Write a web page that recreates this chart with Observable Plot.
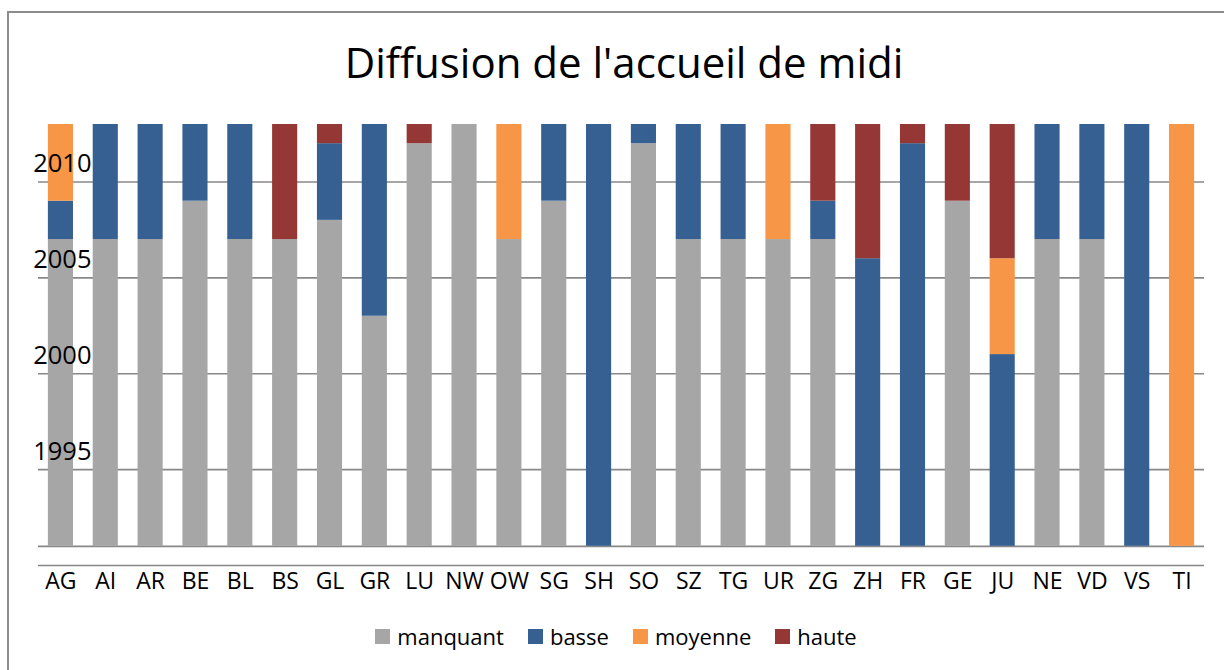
<!DOCTYPE html>
<html>
<head>
<meta charset="utf-8">
<script src="https://cdn.jsdelivr.net/npm/d3@7"></script>
<script src="https://cdn.jsdelivr.net/npm/@observablehq/plot@0.6"></script>
<style>
  html, body { margin: 0; padding: 0; background: #fff; overflow: hidden; }
  #chart { position: relative; width: 1224px; height: 670px; overflow: hidden; background: #fff; font-family: "Open Sans", sans-serif; color: #000; }
  #frame { position: absolute; left: 7px; top: 11px; width: 1300px; height: 800px; border-left: 2px solid #8c8c8c; border-top: 2px solid #8c8c8c; }
  #title { position: absolute; left: 0; top: 41px; width: 1248px; text-align: center; font-size: 42px; line-height: 42px; white-space: nowrap; }
  #plot { position: absolute; left: 0; top: 100px; }
  #legend { position: absolute; left: 0; top: 622px; width: 1232px; display: flex; justify-content: center; font-size: 22px; line-height: 28px; }
  .item { display: flex; align-items: center; margin: 0 12px; }
  .sw { width: 15px; height: 15px; margin-right: 7px; }
</style>
</head>
<body>
<div id="chart">
  <div id="frame"></div>
  <div id="title"></div>
  <div id="plot"></div>
  <div id="legend"></div>
</div>
<script>
const titleText = "Diffusion de l'accueil de midi";
const cantons = ["AG","AI","AR","BE","BL","BS","GL","GR","LU","NW","OW","SG","SH","SO","SZ","TG","UR","ZG","ZH","FR","GE","JU","NE","VD","VS","TI"];
const startYear = 1991;
// durations (years) of each level, stacked from startYear
const manquant = [16,16,16,18,16,16,17,12,21,22,16,18, 0,21,16,16,16,16, 0, 0,18, 0,16,16, 0, 0];
const basse    = [ 2, 6, 6, 4, 6, 0, 4,10, 0, 0, 0, 4,22, 1, 6, 6, 0, 2,15,21, 0,10, 6, 6,22, 0];
const moyenne  = [ 4, 0, 0, 0, 0, 0, 0, 0, 0, 0, 6, 0, 0, 0, 0, 0, 6, 0, 0, 0, 0, 5, 0, 0, 0,22];
const haute    = [ 0, 0, 0, 0, 0, 6, 1, 0, 1, 0, 0, 0, 0, 0, 0, 0, 0, 4, 7, 1, 4, 7, 0, 0, 0, 0];
const seriesNames = ["manquant","basse","moyenne","haute"];
const seriesColors = ["#a6a6a6","#366092","#f79646","#953735"];
const yTicks = [1995, 2000, 2005, 2010];
const gridYears = [1991, 1995, 2000, 2005, 2010];
const axisYear = 1990;
const topYear = 2013;

const seriesValues = [manquant, basse, moyenne, haute];
const rows = [];
cantons.forEach((c, i) => {
  let base = startYear;
  seriesNames.forEach((s, j) => {
    const v = seriesValues[j][i];
    if (v > 0) rows.push({canton: c, series: s, y1: base, y2: base + v});
    base += v;
  });
});

document.getElementById("title").textContent = titleText;

const plot = Plot.plot({
  width: 1224,
  height: 500,
  marginLeft: 38,
  marginRight: 20,
  marginTop: 24,
  marginBottom: 35,
  style: {fontFamily: "Open Sans, sans-serif", fontSize: "23px", color: "#000", background: "transparent", overflow: "visible"},
  x: {domain: cantons, paddingInner: 0.44, paddingOuter: 0.22, round: false, label: null},
  y: {domain: [axisYear, topYear], label: null},
  color: {domain: seriesNames, range: seriesColors},
  marks: [
    Plot.ruleY(gridYears.concat([axisYear]), {stroke: "#888", strokeWidth: 1.6}),
    Plot.barY(rows, {x: "canton", y1: "y1", y2: "y2", fill: "series"}),
    Plot.axisX({tickSize: 0, tickPadding: 7, fontSize: 23, label: null}),
    Plot.axisY({ticks: yTicks, tickSize: 0, tickPadding: 0, tickFormat: "d", dx: 53, dy: -18, fontSize: 25.5, label: null})
  ]
});
document.getElementById("plot").appendChild(plot);

const legend = document.getElementById("legend");
seriesNames.forEach((s, j) => {
  const it = document.createElement("div");
  it.className = "item";
  const sw = document.createElement("div");
  sw.className = "sw";
  sw.style.background = seriesColors[j];
  const t = document.createElement("span");
  t.textContent = s;
  it.appendChild(sw); it.appendChild(t);
  legend.appendChild(it);
});
</script>
</body>
</html>
